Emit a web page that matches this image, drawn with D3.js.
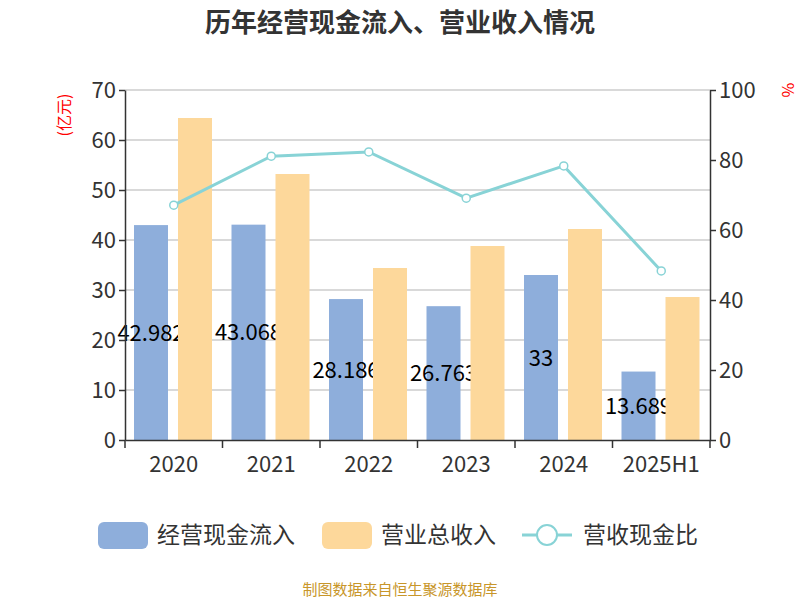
<!DOCTYPE html>
<html><head><meta charset="utf-8">
<script src="https://cdn.jsdelivr.net/npm/d3@7"></script>
<style>body{margin:0;background:#fff}text{font-family:"Noto Sans CJK SC","Noto Sans",sans-serif}</style>
</head><body><svg id="c" width="800" height="600"></svg>
<script>
const years = ['2020','2021','2022','2023','2024','2025H1'];
const cashIn = [42.982, 43.068, 28.186, 26.763, 33, 13.689];
const revenue = [64.4, 53.2, 34.4, 38.8, 42.2, 28.6];
const ratio = [67.1, 81.1, 82.3, 69.1, 78.3, 48.3];
const leftTicks = [0,10,20,30,40,50,60,70];
const rightTicks = [0,20,40,60,80,100];

const svg = d3.select('#c');
const x = d3.scaleBand().domain(years).range([125,710]);
const yL = d3.scaleLinear().domain([0,70]).range([440,90]);
const yR = d3.scaleLinear().domain([0,100]).range([440,90]);

svg.append('text').attr('x',400).attr('y',32).attr('text-anchor','middle')
  .attr('font-size',26).attr('font-weight','bold').attr('fill','#333').text('历年经营现金流入、营业收入情况');

// grid
svg.append('g').selectAll('line').data(leftTicks.slice(1)).join('line')
  .attr('x1',125).attr('x2',710).attr('y1',d=>yL(d)).attr('y2',d=>yL(d))
  .attr('stroke','#ccc').attr('stroke-width',1.5);

const bw = 34;
svg.append('g').selectAll('rect').data(cashIn).join('rect')
  .attr('x',(d,i)=>x(years[i])+9).attr('width',bw)
  .attr('y',d=>yL(d)).attr('height',d=>440-yL(d)).attr('fill','#8eaedb');

svg.append('g').selectAll('text').data(cashIn).join('text')
  .attr('x',(d,i)=>x(years[i])+9+bw/2).attr('y',d=>(yL(d)+440)/2+8)
  .attr('text-anchor','middle').attr('font-size',22).attr('fill','#000').text(d=>d);

svg.append('g').selectAll('rect').data(revenue).join('rect')
  .attr('x',(d,i)=>x(years[i])+53).attr('width',bw)
  .attr('y',d=>yL(d)).attr('height',d=>440-yL(d)).attr('fill','#fdd89b');

const line = d3.line().x((d,i)=>x(years[i])+x.bandwidth()/2).y(d=>yR(d));
svg.append('path').datum(ratio).attr('d',line).attr('fill','none')
  .attr('stroke','#88d3d6').attr('stroke-width',3);
svg.append('g').selectAll('circle').data(ratio).join('circle')
  .attr('cx',(d,i)=>x(years[i])+x.bandwidth()/2).attr('cy',d=>yR(d)).attr('r',4)
  .attr('fill','#fff').attr('stroke','#88d3d6').attr('stroke-width',1.5);

const styleAxis = g => { g.selectAll('path,line').attr('stroke','#333').attr('stroke-width',1.5);
  g.selectAll('text').attr('font-size',22).attr('fill','#333'); };
svg.append('g').attr('transform','translate(125,0)')
  .call(d3.axisLeft(yL).tickValues(leftTicks).tickSize(6).tickSizeOuter(0)).call(styleAxis);
svg.append('g').attr('transform','translate(710,0)')
  .call(d3.axisRight(yR).tickValues(rightTicks).tickSize(6).tickSizeOuter(0)).call(styleAxis);
svg.append('g').attr('transform','translate(0,440)')
  .call(d3.axisBottom(x).tickSize(0).tickSizeOuter(0)).call(styleAxis)
  .selectAll('text').attr('dy','1.3em');
// ticks at band boundaries
svg.append('g').selectAll('line').data(years.concat(['end'])).join('line')
  .attr('x1',d=>d==='end'?710:x(d)).attr('x2',d=>d==='end'?710:x(d)).attr('y1',440).attr('y2',448).attr('stroke','#333').attr('stroke-width',1.5);

svg.append('text').attr('transform','translate(70,115) rotate(-90)').attr('text-anchor','middle')
  .attr('font-size',16).attr('fill','red').text('(亿元)');
svg.append('text').attr('transform','translate(782,90) rotate(90)').attr('text-anchor','middle')
  .attr('font-size',16).attr('fill','red').text('%');

// legend
const lg = svg.append('g').attr('font-size',23).attr('fill','#333');
lg.append('rect').attr('x',98).attr('y',522).attr('width',50).attr('height',27).attr('rx',6).attr('fill','#8eaedb');
lg.append('text').attr('x',157).attr('y',543).text('经营现金流入');
lg.append('rect').attr('x',322).attr('y',522).attr('width',50).attr('height',27).attr('rx',6).attr('fill','#fdd89b');
lg.append('text').attr('x',381).attr('y',543).text('营业总收入');
lg.append('line').attr('x1',522).attr('x2',572).attr('y1',535).attr('y2',535).attr('stroke','#88d3d6').attr('stroke-width',3);
lg.append('circle').attr('cx',547).attr('cy',535).attr('r',10).attr('fill','#fff').attr('stroke','#88d3d6').attr('stroke-width',2);
lg.append('text').attr('x',583).attr('y',543).text('营收现金比');

svg.append('text').attr('x',400).attr('y',595).attr('text-anchor','middle').attr('font-size',15)
  .attr('fill','#c8962a').text('制图数据来自恒生聚源数据库');
</script></body></html>
